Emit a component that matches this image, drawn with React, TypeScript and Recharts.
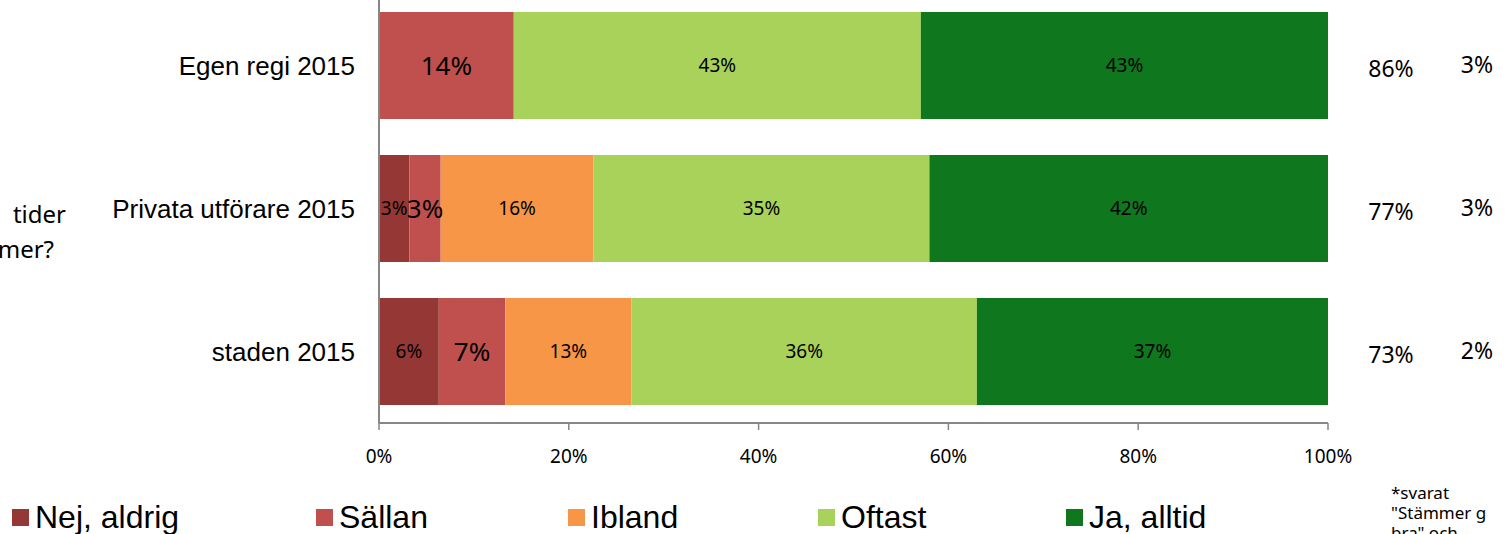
import { BarChart, Bar, XAxis, YAxis, LabelList } from "recharts";

const categories = ["Egen regi 2015", "Privata utförare 2015", "staden 2015"];
const nejAldrig = [0, 3.2, 6.3];
const sallan = [14.2, 3.3, 7.0];
const ibland = [0, 16.1, 13.3];
const oftast = [42.9, 35.4, 36.4];
const jaAlltid = [42.9, 42.0, 37.0];
const positiveShare = ["86%", "77%", "73%"];
const noAnswerShare = ["3%", "3%", "2%"];
const xTicks = [0, 20, 40, 60, 80, 100];

const seriesKeys = ["nej", "sallan", "ibland", "oftast", "ja"];
const seriesNames = ["Nej, aldrig", "Sällan", "Ibland", "Oftast", "Ja, alltid"];
const seriesColors = ["#953735", "#C0504D", "#F79646", "#A9D25B", "#0F771D"];

const data = categories.map((name, i) => ({
  name,
  nej: nejAldrig[i],
  sallan: sallan[i],
  ibland: ibland[i],
  oftast: oftast[i],
  ja: jaAlltid[i],
  positive: positiveShare[i],
  noAnswer: noAnswerShare[i],
}));

const calibri = "'Noto Sans', 'Open Sans', sans-serif";
const arial = "'Liberation Sans', Arial, sans-serif";
const axisGray = "#868686";

// legend item x positions (px)
const legendLeft = [12, 316, 568, 818, 1066];

function segmentLabel(fontSize: number) {
  return (props: any) => {
    const { x, y, width, height, value } = props;
    if (!value) return null;
    return (
      <text
        x={x + width / 2}
        y={y + height / 2}
        textAnchor="middle"
        dominantBaseline="central"
        fontFamily={calibri}
        fontSize={fontSize}
        fill="#000"
      >
        {Math.round(value)}%
      </text>
    );
  };
}

const sideLabels = (props: any) => {
  const { x, y, width, height, index } = props;
  const end = x + width;
  const cy = y + height / 2;
  return (
    <g fontFamily={calibri} fontSize={23} fill="#000">
      <text x={end + 63} y={cy + 3} textAnchor="middle" dominantBaseline="central">
        {positiveShare[index]}
      </text>
      <text x={end + 149} y={cy - 1} textAnchor="middle" dominantBaseline="central">
        {noAnswerShare[index]}
      </text>
    </g>
  );
};

export default function App() {
  return (
    <div
      style={{
        position: "absolute",
        left: 0,
        top: 0,
        width: 1505,
        height: 534,
        overflow: "hidden",
        background: "#fff",
      }}
    >
      <div style={{ position: "absolute", left: 0, top: -6 }}>
        <BarChart
          width={1505}
          height={482}
          data={data}
          layout="vertical"
          margin={{ top: 0, right: 177, left: 0, bottom: 13 }}
          barCategoryGap="12.5%"
        >
          <XAxis
            type="number"
            domain={[0, 100]}
            ticks={xTicks}
            tickFormatter={(v) => `${v}%`}
            height={40}
            tickSize={7}
            tickMargin={20}
            axisLine={{ stroke: axisGray, strokeWidth: 2 }}
            tickLine={{ stroke: axisGray, strokeWidth: 1.5 }}
            tick={{ fontFamily: calibri, fontSize: 19, fill: "#000" }}
          />
          <YAxis
            type="category"
            dataKey="name"
            width={379}
            tickSize={0}
            tickMargin={24}
            axisLine={{ stroke: axisGray, strokeWidth: 2 }}
            tickLine={false}
            tick={{ fontFamily: arial, fontSize: 26, fill: "#000" }}
          />
          {seriesKeys.map((key, i) => (
            <Bar
              key={key}
              dataKey={key}
              name={seriesNames[i]}
              stackId="a"
              fill={seriesColors[i]}
              isAnimationActive={false}
            >
              <LabelList dataKey={key} content={segmentLabel(key === "sallan" ? 26 : 19)} />
              {key === "ja" && <LabelList dataKey="positive" content={sideLabels} />}
            </Bar>
          ))}
        </BarChart>
      </div>

      {/* y-axis title, cut off at the left edge */}
      <div
        style={{
          position: "absolute",
          right: 1505 - 66,
          top: 197,
          fontFamily: calibri,
          fontSize: 24,
          lineHeight: "34px",
          whiteSpace: "nowrap",
        }}
      >
        tider
      </div>
      <div
        style={{
          position: "absolute",
          right: 1505 - 54,
          top: 232,
          fontFamily: calibri,
          fontSize: 24,
          lineHeight: "34px",
          whiteSpace: "nowrap",
        }}
      >
        mer?
      </div>

      {/* footnote, cut off at the right edge */}
      <div
        style={{
          position: "absolute",
          left: 1391,
          top: 483,
          fontFamily: calibri,
          fontSize: 17,
          lineHeight: "20px",
          whiteSpace: "nowrap",
        }}
      >
        <div>*svarat</div>
        <div>"Stämmer g</div>
        <div>bra" och</div>
      </div>

      {/* legend */}
      {seriesNames.map((name, i) => (
        <div
          key={name}
          style={{
            position: "absolute",
            left: legendLeft[i],
            top: 498,
            height: 38,
            display: "flex",
            alignItems: "center",
            fontFamily: arial,
            fontSize: 32,
            whiteSpace: "nowrap",
          }}
        >
          <span
            style={{
              display: "inline-block",
              width: 17,
              height: 17,
              background: seriesColors[i],
              marginRight: 6,
            }}
          />
          {name}
        </div>
      ))}
    </div>
  );
}
